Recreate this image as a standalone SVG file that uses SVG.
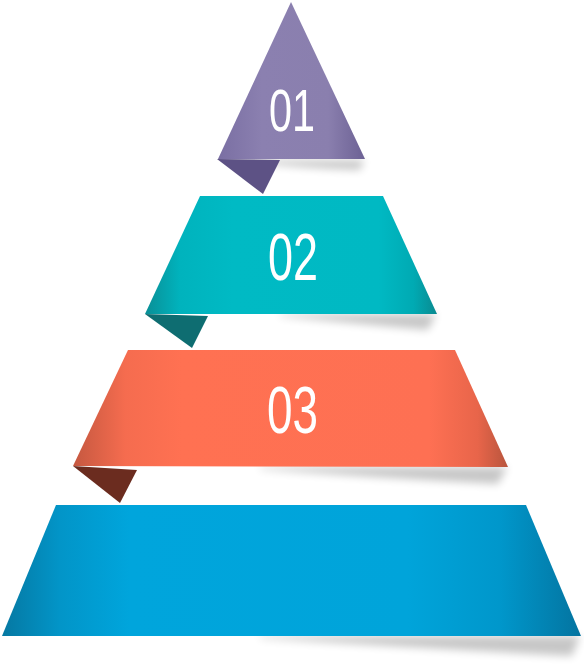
<svg xmlns="http://www.w3.org/2000/svg" width="584" height="671" viewBox="0 0 584 671">
<defs>
<linearGradient id="gP" x1="0" y1="0" x2="1" y2="0">
<stop offset="0" stop-color="#7a6fa3"/><stop offset="0.3" stop-color="#8b80b0"/><stop offset="0.75" stop-color="#8a7fae"/><stop offset="1" stop-color="#6c6194"/>
</linearGradient>
<linearGradient id="gT" x1="0" y1="0" x2="1" y2="0">
<stop offset="0" stop-color="#0a8f96"/><stop offset="0.12" stop-color="#00b3bd"/><stop offset="0.3" stop-color="#00bac4"/><stop offset="0.8" stop-color="#00b9c3"/><stop offset="0.92" stop-color="#00aab3"/><stop offset="1" stop-color="#0a8a90"/>
</linearGradient>
<linearGradient id="gO" x1="0" y1="0" x2="1" y2="0">
<stop offset="0" stop-color="#c55840"/><stop offset="0.12" stop-color="#f56c4f"/><stop offset="0.25" stop-color="#ff7152"/><stop offset="0.82" stop-color="#fe7053"/><stop offset="0.93" stop-color="#e8654a"/><stop offset="1" stop-color="#b8553d"/>
</linearGradient>
<linearGradient id="gB" x1="0" y1="0" x2="1" y2="0">
<stop offset="0" stop-color="#0678a2"/><stop offset="0.1" stop-color="#0295c8"/><stop offset="0.22" stop-color="#00a5dc"/><stop offset="0.7" stop-color="#00a4da"/><stop offset="0.86" stop-color="#0097cb"/><stop offset="1" stop-color="#0474a0"/>
</linearGradient>
<filter id="blur" x="-20%" y="-100%" width="140%" height="300%">
<feGaussianBlur stdDeviation="4"/>
</filter>
</defs>
<style>
.num{font-family:"Liberation Sans","DejaVu Sans",sans-serif;fill:#ffffff;text-anchor:middle;font-weight:normal}
.shadow{fill:#000000;opacity:0.22;filter:url(#blur)}
</style>
<g id="node-01">
<path class="shadow" d="M250,160 L364,160 L360,170 Q300,168 250,162 Z"/>
<polygon points="217,159 280,160 263,194" fill="#5d5285"/>
<polygon points="291,2 365,159 218,159" fill="url(#gP)"/>
<text class="num" x="292" y="131" font-size="60" textLength="46" lengthAdjust="spacingAndGlyphs">01</text>
</g>
<g id="node-02">
<path class="shadow" d="M280,314 L436,314 L428,330 Q360,324 280,316 Z"/>
<polygon points="145,314 208,316 192,348" fill="#0e6d71"/>
<polygon points="200,196 383,196 437,314 145,314" fill="url(#gT)"/>
<text class="num" x="293" y="280" font-size="66" textLength="50" lengthAdjust="spacingAndGlyphs">02</text>
</g>
<g id="node-03">
<path class="shadow" d="M260,467 L507,467 L498,484 Q380,478 260,469 Z"/>
<polygon points="73,466 137,470 120,503" fill="#6b2c1f"/>
<polygon points="128,350 455,350 508,467 73,466" fill="url(#gO)"/>
<text class="num" x="292.5" y="433" font-size="67" textLength="51" lengthAdjust="spacingAndGlyphs">03</text>
</g>
<g id="node-04">
<path class="shadow" d="M260,636 L580,636 L572,656 Q420,648 260,638 Z"/>
<polygon points="56,505 526,505 581,636 2,636" fill="url(#gB)"/>
</g>
</svg>
